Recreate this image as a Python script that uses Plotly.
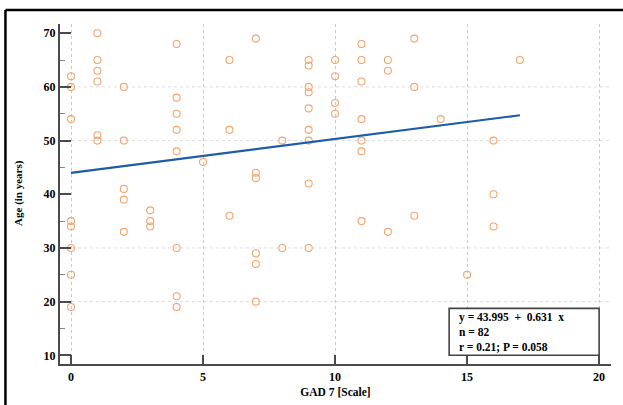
import plotly.graph_objects as go

# ---- data ----
gad7 = [0, 0, 0, 0, 0, 0, 0, 0,
        1, 1, 1, 1, 1, 1,
        2, 2, 2, 2, 2,
        3, 3, 3,
        4, 4, 4, 4, 4, 4, 4, 4,
        5,
        6, 6, 6,
        7, 7, 7, 7, 7, 7,
        8, 8,
        9, 9, 9, 9, 9, 9, 9, 9, 9,
        10, 10, 10, 10,
        11, 11, 11, 11, 11, 11, 11,
        12, 12, 12,
        13, 13, 13,
        14,
        15,
        16, 16, 16,
        17]
age = [62, 60, 54, 35, 34, 30, 25, 19,
       70, 65, 63, 61, 51, 50,
       60, 50, 41, 39, 33,
       37, 35, 34,
       68, 58, 55, 52, 48, 30, 21, 19,
       46,
       65, 52, 36,
       69, 44, 43, 29, 27, 20,
       50, 30,
       65, 64, 60, 59, 56, 52, 50, 42, 30,
       65, 62, 57, 55,
       68, 65, 61, 54, 50, 48, 35,
       65, 63, 33,
       69, 60, 36,
       54,
       25,
       50, 40, 34,
       65]

intercept = 43.995
slope = 0.631
n_label = 82
r_label = "0.21"
p_label = "0.058"

x_ticks = [0, 5, 10, 15, 20]
y_ticks = [10, 20, 30, 40, 50, 60, 70]
y_grid = [20, 30, 50, 60]

FONT = "Liberation Serif"
MARKER = "#F5A46E"
LINE = "#1C5CA8"
AXIS = "#4a4a4a"

xr = [-0.417, 20.45]
yr = [8.38, 71.72]

fig = go.Figure()

fig.add_trace(go.Scatter(
    x=gad7, y=age, mode="markers",
    marker=dict(symbol="circle-open", size=7, color=MARKER, line=dict(width=1.1, color=MARKER)),
    showlegend=False, hoverinfo="skip"))

xmin, xmax = min(gad7), max(gad7)
fig.add_trace(go.Scatter(
    x=[xmin, xmax], y=[intercept + slope * xmin, intercept + slope * xmax],
    mode="lines", line=dict(color=LINE, width=2.2),
    showlegend=False, hoverinfo="skip"))

shapes = []
for g in y_grid:
    shapes.append(dict(type="line", xref="x", yref="y", x0=xr[0], x1=xr[1], y0=g, y1=g,
                       line=dict(color="#dcdcdc", width=1, dash="3px,3px"), layer="below"))
# stats box
shapes.append(dict(type="rect", xref="x", yref="y", x0=14.32, x1=20, y0=10, y1=18.75,
                   line=dict(color="#444444", width=1.6), fillcolor="white", layer="above"))
# outer frame (top and left visible)
shapes.append(dict(type="line", xref="paper", yref="paper", x0=-0.099, x1=1.2, y0=1.041, y1=1.041,
                   line=dict(color="black", width=2.5)))
shapes.append(dict(type="line", xref="paper", yref="paper", x0=-0.099, x1=-0.099, y0=1.041, y1=-0.3,
                   line=dict(color="black", width=2.5)))

box_text = (f"y = {intercept}\u00a0\u00a0+\u00a0\u00a0{slope}\u00a0\u00a0x<br>"
            f"n = {n_label}<br>r = {r_label}; P = {p_label}")
annotations = [
    dict(xref="x", yref="y", x=14.6, y=14.4, xanchor="left", yanchor="middle", align="left",
         showarrow=False, text=box_text,
         font=dict(family=FONT, size=11.5, color="black", weight="bold")),
    dict(xref="paper", yref="paper", x=-0.0757, y=0.504, xanchor="center", yanchor="middle",
         textangle=-90, showarrow=False, text="Age (in years)",
         font=dict(family=FONT, size=11, color="black", weight="bold")),
]

fig.update_layout(
    width=623, height=405,
    margin=dict(l=60, r=12, t=24, b=41, autoexpand=False),
    paper_bgcolor="white", plot_bgcolor="white",
    shapes=shapes, annotations=annotations,
    xaxis=dict(range=xr, tickvals=x_ticks, ticks="inside", ticklen=9, tickwidth=2, tickcolor=AXIS,
               automargin=False,
               showline=True, linewidth=2.2, linecolor=AXIS, zeroline=False,
               showgrid=True, gridcolor="#c8c8c8", griddash="3px,3px", gridwidth=1,
               tickfont=dict(family=FONT, size=12, color="black", weight="bold"),
               title=dict(text="GAD 7 [Scale]", standoff=5,
                          font=dict(family=FONT, size=11.5, color="black", weight="bold"))),
    yaxis=dict(range=yr, tickvals=y_ticks, ticks="inside", ticklen=11, tickwidth=2, tickcolor=AXIS,
               automargin=False,
               showline=True, linewidth=2.2, linecolor=AXIS, zeroline=False, showgrid=False,
               minor=dict(dtick=5, tick0=5, ticks="inside", ticklen=5, tickwidth=1, tickcolor="#888888",
                          showgrid=False),
               tickfont=dict(family=FONT, size=12, color="black", weight="bold")),
)

fig.write_html("out.html", config={"displayModeBar": False},
               post_script="document.body.style.margin='0';document.body.style.overflow='hidden';")
